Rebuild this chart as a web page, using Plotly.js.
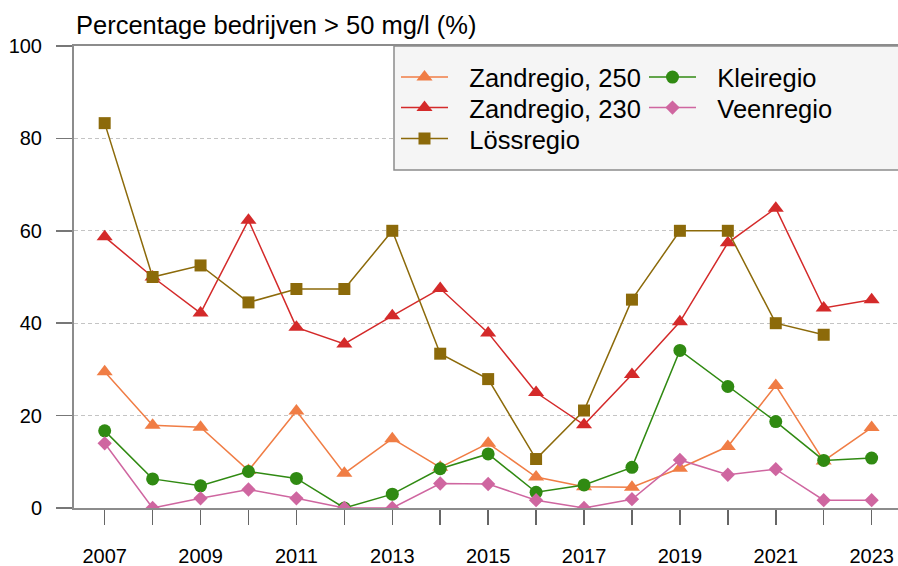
<!DOCTYPE html>
<html>
<head>
<meta charset="utf-8">
<script src="https://cdn.plot.ly/plotly-3.0.1.min.js"></script>
<style>html,body{margin:0;padding:0;background:#fff;}#chart{width:898px;height:566px;}</style>
</head>
<body>
<div id="chart"></div>
<script>
const years = [2007,2008,2009,2010,2011,2012,2013,2014,2015,2016,2017,2018,2019,2020,2021,2022,2023];
const tickLabels = ['2007','','2009','','2011','','2013','','2015','','2017','','2019','','2021','','2023'];
const zand250 = [29.5,17.9,17.5,8.1,21.0,7.5,15.0,8.8,14.0,6.7,4.6,4.5,8.6,13.3,26.5,10.2,17.4];
const zand230 = [58.7,50.0,42.2,62.3,39.1,35.5,41.6,47.5,37.9,25.0,18.0,28.9,40.3,57.4,64.9,43.3,45.1];
const loss    = [83.3,50.0,52.5,44.5,47.4,47.4,60.0,33.4,27.9,10.6,21.1,45.1,60.0,60.0,40.0,37.5,null];
const klei    = [16.7,6.3,4.8,7.9,6.4,0.0,3.0,8.5,11.7,3.4,5.0,8.8,34.1,26.3,18.7,10.3,10.8];
const veen    = [14.0,0.0,2.1,4.0,2.1,0.0,0.0,5.3,5.2,1.7,0.0,1.9,10.4,7.2,8.4,1.7,1.7];
const seriesNames = ['Zandregio, 250','Zandregio, 230','Lössregio','Kleiregio','Veenregio'];

const FONT = '"Liberation Sans", Arial, Helvetica, sans-serif';
const L = 74, R = 898, T = 46, B = 508;
const px = x => (x - L) / (R - L);
const py = y => (B - y) / (B - T);

const specs = [
  {y: zand250, color: '#F07D45', symbol: 'triangle-up', size: 14, legend: 'legend'},
  {y: zand230, color: '#D42A2A', symbol: 'triangle-up', size: 14, legend: 'legend2'},
  {y: loss,    color: '#8C6A0A', symbol: 'square',      size: 12, legend: 'legend3'},
  {y: klei,    color: '#308A12', symbol: 'circle',      size: 13, legend: 'legend4'},
  {y: veen,    color: '#CF66A0', symbol: 'diamond',     size: 11, legend: 'legend5'}
];
const traces = specs.map((s, i) => ({
  type: 'scatter', mode: 'lines+markers', x: years, y: s.y,
  name: '\u00a0\u00a0\u200a' + seriesNames[i], legend: s.legend,
  line: {color: s.color, width: 1.5},
  marker: {color: s.color, symbol: s.symbol, size: s.size},
  connectgaps: false
}));

const legendBase = {
  bgcolor: 'rgba(0,0,0,0)', borderwidth: 0, itemwidth: 47,
  font: {family: FONT, size: 25.5, color: '#000'},
  xanchor: 'left', yanchor: 'middle', orientation: 'v'
};
const col1 = 396, col2 = 644;
const rows = [77.5, 108, 139];

const layout = {
  width: 898, height: 566,
  margin: {l: L, r: 0, t: T, b: 566 - B, pad: 0},
  paper_bgcolor: '#fff', plot_bgcolor: '#fff',
  font: {family: FONT, color: '#000'},
  showlegend: true,
  title: {text: 'Percentage bedrijven > 50 mg/l (%)', font: {family: FONT, size: 25.5, color: '#000'},
          xref: 'container', yref: 'container', x: 76/898, xanchor: 'left', y: 1 - 25/566, yanchor: 'middle'},
  xaxis: {
    range: [2006.36, 2023.55], tickvals: years, ticktext: tickLabels,
    showgrid: false, zeroline: false, showline: true, mirror: true,
    linecolor: '#8c8c8c', linewidth: 2,
    ticks: 'outside', ticklen: 15, tickwidth: 1.5, tickcolor: '#666',
    ticklabelstandoff: 14,
    tickfont: {family: FONT, size: 20, color: '#000'}
  },
  yaxis: {
    range: [0, 100], tickvals: [0,20,40,60,80,100],
    showgrid: true, gridcolor: '#c4c4c4', gridwidth: 1, griddash: '4px,3px',
    zeroline: false, showline: true, linecolor: '#8c8c8c', linewidth: 2,
    ticks: 'outside', ticklen: 16, tickwidth: 1.5, tickcolor: '#777',
    ticklabelstandoff: 10,
    tickfont: {family: FONT, size: 20, color: '#000'}
  },
  shapes: [{
    type: 'rect', xref: 'paper', yref: 'paper', layer: 'above',
    x0: px(394), x1: px(899), y0: py(170), y1: py(46),
    fillcolor: '#f5f5f5', line: {color: '#8c8c8c', width: 1.5}
  }],
  legend:  Object.assign({}, legendBase, {x: px(col1), y: py(rows[0])}),
  legend2: Object.assign({}, legendBase, {x: px(col1), y: py(rows[1])}),
  legend3: Object.assign({}, legendBase, {x: px(col1), y: py(rows[2])}),
  legend4: Object.assign({}, legendBase, {x: px(col2), y: py(rows[0])}),
  legend5: Object.assign({}, legendBase, {x: px(col2), y: py(rows[1])})
};

Plotly.newPlot('chart', traces, layout, {displayModeBar: false, staticPlot: true});
</script>
</body>
</html>
